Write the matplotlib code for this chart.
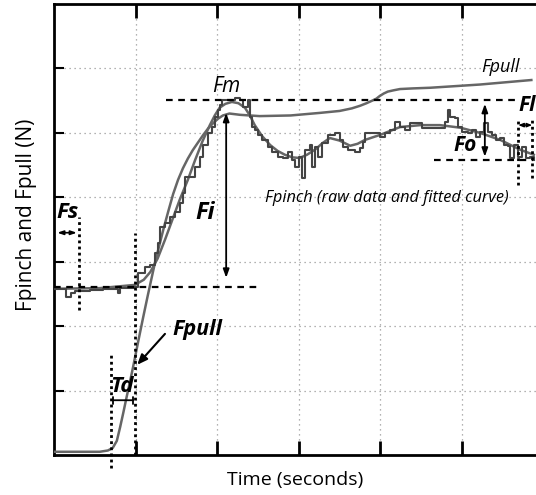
import matplotlib
matplotlib.use('Agg')
import matplotlib.pyplot as plt
import numpy as np

# raw pinch force (step trace)
raw_t = [0.00, 0.12, 0.15, 0.21, 0.26, 0.44, 0.60, 0.78, 0.81, 0.98, 1.03, 1.12, 1.18, 1.24,
         1.28, 1.30, 1.36, 1.42, 1.48, 1.54, 1.58, 1.61, 1.67, 1.73, 1.79, 1.83, 1.89, 1.94,
         1.97, 2.01, 2.03, 2.06, 2.22, 2.28, 2.32, 2.38, 2.40, 2.43, 2.46, 2.50, 2.55, 2.62,
         2.67, 2.75, 2.81, 2.87, 2.92, 2.95, 3.00, 3.04, 3.08, 3.14, 3.16, 3.20, 3.24, 3.28,
         3.36, 3.44, 3.51, 3.54, 3.60, 3.69, 3.75, 3.79, 3.81, 3.93, 4.00, 4.06, 4.12, 4.18,
         4.24, 4.30, 4.36, 4.46, 4.51, 4.61, 4.73, 4.79, 4.83, 4.85, 4.91, 4.95, 5.00, 5.07,
         5.12, 5.17, 5.22, 5.27, 5.32, 5.37, 5.42, 5.47, 5.52, 5.56, 5.59, 5.64, 5.69, 5.74,
         5.78, 5.83, 5.88]
raw_f = [2.58, 2.58, 2.45, 2.52, 2.55, 2.56, 2.58, 2.52, 2.59, 2.61, 2.83, 2.92, 2.95, 3.14,
         3.29, 3.54, 3.60, 3.70, 3.77, 3.91, 4.07, 4.32, 4.32, 4.47, 4.63, 4.81, 5.00, 5.09,
         5.25, 5.36, 5.43, 5.51, 5.54, 5.51, 5.40, 5.51, 5.25, 5.09, 5.05, 4.97, 4.89, 4.78,
         4.70, 4.63, 4.61, 4.70, 4.58, 4.47, 4.63, 4.30, 4.74, 4.81, 4.47, 4.78, 4.63, 4.84,
         4.97, 5.00, 4.89, 4.78, 4.74, 4.70, 4.77, 4.86, 5.00, 5.00, 4.94, 5.00, 5.05, 5.17,
         5.09, 5.05, 5.16, 5.16, 5.08, 5.08, 5.08, 5.17, 5.36, 5.25, 5.23, 5.09, 5.02, 5.00,
         5.05, 4.94, 5.02, 5.16, 5.02, 4.97, 4.89, 4.92, 4.81, 4.80, 4.61, 4.81, 4.63, 4.78,
         4.61, 4.63, 4.58]

# fitted pinch curve
fit_t = [0.00, 0.56, 0.99, 1.10, 1.18, 1.27, 1.36, 1.45, 1.54, 1.64, 1.73, 1.82, 1.91, 1.97,
         2.03, 2.10, 2.18, 2.26, 2.34, 2.40, 2.46, 2.55, 2.65, 2.74, 2.83, 2.92, 3.01, 3.10,
         3.20, 3.29, 3.38, 3.50, 3.63, 3.72, 3.81, 4.00, 4.24, 4.49, 4.73, 4.98, 5.22, 5.47,
         5.71, 5.88]
fit_f = [2.58, 2.59, 2.64, 2.72, 2.84, 3.05, 3.34, 3.65, 3.96, 4.27, 4.58, 4.87, 5.12, 5.27,
         5.39, 5.45, 5.48, 5.46, 5.39, 5.27, 5.12, 4.95, 4.81, 4.72, 4.66, 4.62, 4.61, 4.66,
         4.74, 4.84, 4.92, 4.88, 4.80, 4.83, 4.89, 4.97, 5.09, 5.12, 5.12, 5.08, 5.00, 4.89,
         4.74, 4.66]

# pull force
pull_t = [0.00, 0.56, 0.66, 0.72, 0.77, 0.81, 0.85, 0.89, 0.93, 0.97, 1.03, 1.09, 1.15, 1.24,
          1.34, 1.40, 1.46, 1.52, 1.58, 1.64, 1.70, 1.77, 1.83, 1.89, 1.95, 2.01, 2.07, 2.15,
          2.28, 2.52, 2.90, 3.26, 3.50, 3.65, 3.75, 3.83, 3.90, 3.95, 3.99, 4.04, 4.09, 4.16,
          4.24, 4.40, 4.61, 5.22, 5.85]
pull_f = [0.05, 0.05, 0.07, 0.11, 0.22, 0.43, 0.66, 0.90, 1.13, 1.37, 1.75, 2.12, 2.48, 3.00,
          3.50, 3.78, 4.05, 4.27, 4.45, 4.60, 4.73, 4.86, 4.97, 5.07, 5.15, 5.22, 5.27, 5.30,
          5.28, 5.26, 5.27, 5.31, 5.34, 5.38, 5.42, 5.46, 5.50, 5.53, 5.57, 5.61, 5.64, 5.66,
          5.68, 5.69, 5.70, 5.75, 5.82]

plt.rcParams['font.family'] = ['Open Sans', 'DejaVu Sans']

fig = plt.figure(figsize=(5.36, 4.95), dpi=100)
ax = fig.add_axes([54 / 536, 40 / 495, 482 / 536, 451 / 495])
ax.set_xlim(0, 5.907)
ax.set_ylim(0, 7)

ax.set_xticks([1, 2, 3, 4, 5])
ax.set_yticks([1, 2, 3, 4, 5, 6])
ax.set_xticklabels([])
ax.set_yticklabels([])
ax.tick_params(axis='x', direction='in', length=10, width=2, top=True, bottom=True)
ax.tick_params(axis='y', direction='in', length=7, width=1.5, left=True, right=False)
ax.grid(True, color='#999999', linestyle=(0, (1, 3)), linewidth=0.9)
for s in ['left', 'top', 'bottom']:
    ax.spines[s].set_linewidth(2)
ax.spines['right'].set_visible(False)

ax.plot(pull_t, pull_f, color='#666666', lw=1.8, zorder=3)
ax.plot(fit_t, fit_f, color='#666666', lw=1.8, zorder=3)
ax.plot(raw_t, raw_f, color='#444444', lw=1.5, drawstyle='steps-post', zorder=4)

dash = dict(color='black', lw=1.6, linestyle=(0, (3, 2.5)), zorder=5)
dot = dict(color='black', lw=2, linestyle=(0, (1, 1.2)), zorder=5)
arr = dict(arrowstyle='<|-|>,head_length=0.5,head_width=0.18', color='black', lw=1.3,
           shrinkA=0, shrinkB=0)

# Fm / Fi
ax.plot([1.37, 5.66], [5.51, 5.51], **dash)
ax.plot([0, 2.52], [2.61, 2.61], **dash)
ax.annotate('', xy=(2.11, 5.31), xytext=(2.11, 2.75), arrowprops=arr, zorder=6)
ax.text(2.11, 5.72, 'Fm', fontsize=15, style='italic', ha='center', va='center')
ax.text(1.85, 3.76, 'Fi', fontsize=17, style='italic', weight='bold', ha='center', va='center')

# Fs
ax.plot([0.31, 0.31], [2.25, 3.70], **dot)
ax.annotate('', xy=(0.04, 3.45), xytext=(0.28, 3.45),
            arrowprops=dict(arrowstyle='<|-|>,head_length=0.35,head_width=0.12', color='black',
                            lw=1.2, shrinkA=0, shrinkB=0), zorder=6)
ax.text(0.17, 3.76, 'Fs', fontsize=16, style='italic', weight='bold', ha='center', va='center')

# Td
ax.plot([0.99, 0.99], [0, 3.45], **dot)
ax.plot([0.70, 0.70], [-0.2, 1.55], clip_on=False, **dot)
ax.annotate('', xy=(0.72, 0.85), xytext=(0.97, 0.85),
            arrowprops=dict(arrowstyle='|-|,widthA=0.25,widthB=0.25', color='black', lw=1.3,
                            shrinkA=0, shrinkB=0), zorder=6)
ax.text(0.83, 1.07, 'Td', fontsize=16, style='italic', weight='bold', ha='center', va='center')

# Fpull label with arrow
ax.annotate('', xy=(1.02, 1.40), xytext=(1.36, 1.88),
            arrowprops=dict(arrowstyle='-|>,head_length=0.6,head_width=0.25', color='black',
                            lw=1.5, shrinkA=0, shrinkB=0), zorder=6)
ax.text(1.76, 1.95, 'Fpull', fontsize=15.5, style='italic', weight='bold', ha='center', va='center')
ax.text(5.47, 6.02, 'Fpull', fontsize=13, style='italic', ha='center', va='center')
ax.text(2.59, 3.99, 'Fpinch (raw data and fitted curve)', fontsize=11.8, style='italic',
        ha='left', va='center')

# Fo
ax.plot([4.66, 5.87], [4.58, 4.58], **dash)
ax.annotate('', xy=(5.28, 5.45), xytext=(5.28, 4.63), arrowprops=arr, zorder=6)
ax.text(5.04, 4.81, 'Fo', fontsize=15, style='italic', weight='bold', ha='center', va='center')

# Fl
ax.plot([5.69, 5.69], [4.19, 5.23], **dot)
ax.plot([5.86, 5.86], [4.30, 5.23], **dot)
ax.annotate('', xy=(5.69, 5.12), xytext=(5.86, 5.12),
            arrowprops=dict(arrowstyle='<|-|>,head_length=0.3,head_width=0.12', color='black',
                            lw=1, shrinkA=0, shrinkB=0), zorder=6)
ax.text(5.69, 5.43, 'Fl', fontsize=15, style='italic', weight='bold', ha='left', va='center')

ax.set_xlabel('Time (seconds)', fontsize=14, labelpad=8)
ax.set_ylabel('Fpinch and Fpull (N)', fontsize=15)
ax.yaxis.set_label_coords(-0.035, 0.532)

fig.savefig('out.png', dpi=100)
